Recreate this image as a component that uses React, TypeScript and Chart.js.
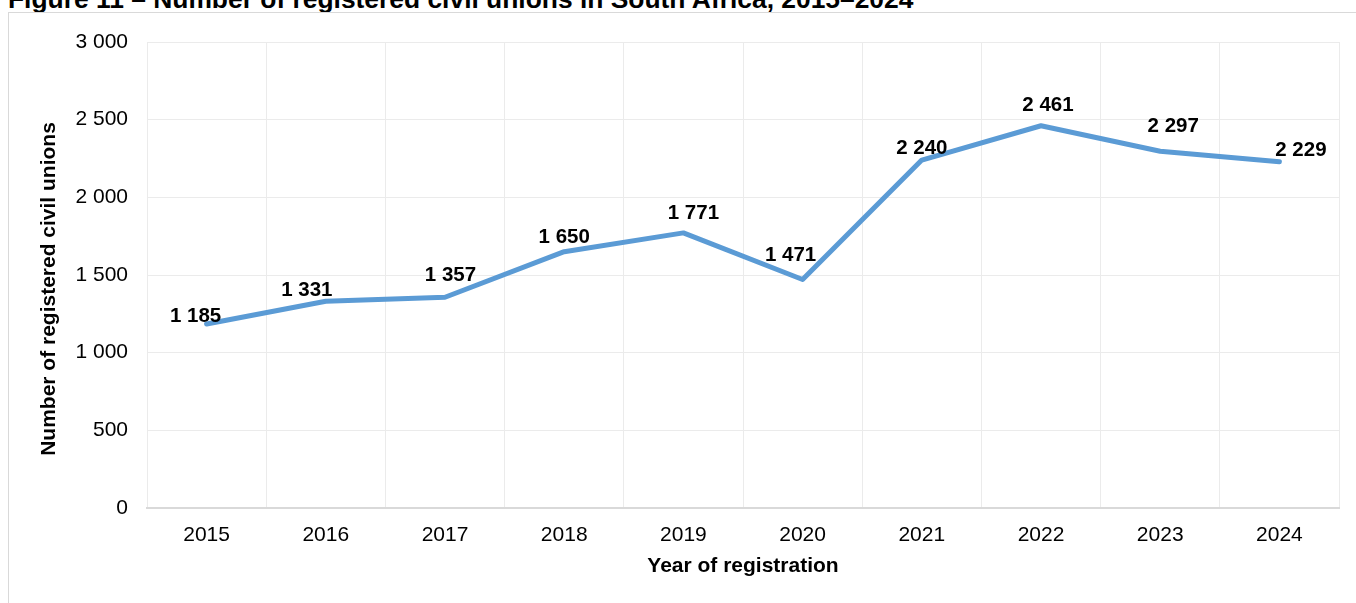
import React, { useEffect, useRef } from "react";
import { Chart, registerables } from "chart.js";

Chart.register(...registerables);

const years: string[] = ["2015", "2016", "2017", "2018", "2019", "2020", "2021", "2022", "2023", "2024"];
const unions: number[] = [1185, 1331, 1357, 1650, 1771, 1471, 2240, 2461, 2297, 2229];
const yTicks: number[] = [0, 500, 1000, 1500, 2000, 2500, 3000];

// label nudges (dx, dy of label centre relative to its point), as placed in the original
const labelNudges: [number, number][] = [
  [-11, -9.5], [-19, -13], [5.5, -23.7], [0, -16], [10, -21],
  [-12, -26], [0, -13.5], [7, -22], [13, -27], [21.5, -13],
];

const FONT = "'Liberation Sans', Arial, sans-serif";
const fmt = (v: number) => String(v).replace(/\B(?=(\d{3})+(?!\d))/g, " ");

const overlayPlugin = {
  id: "overlay",
  afterDatasetsDraw(chart: any) {
    const ctx = chart.ctx;
    const meta = chart.getDatasetMeta(0);
    const size = 20.5;
    ctx.save();
    ctx.fillStyle = "#000";
    ctx.font = `bold ${size}px ${FONT}`;
    ctx.textAlign = "center";
    ctx.textBaseline = "alphabetic";
    meta.data.forEach((pt: any, i: number) => {
      const [dx, dy] = labelNudges[i];
      ctx.fillText(fmt(unions[i]), pt.x + dx, pt.y + dy + 0.358 * size);
    });
    ctx.restore();
  },
  afterDraw(chart: any) {
    const ctx = chart.ctx;
    const area = chart.chartArea;
    ctx.save();
    ctx.fillStyle = "#000";
    ctx.font = `bold 21px ${FONT}`;
    ctx.textAlign = "center";
    ctx.textBaseline = "alphabetic";
    ctx.fillText("Year of registration", (area.left + area.right) / 2, 572);
    ctx.translate(55, 289);
    ctx.rotate(-Math.PI / 2);
    ctx.fillText("Number of registered civil unions", 0, 0);
    ctx.restore();
  },
};

export default function App() {
  const ref = useRef<HTMLCanvasElement | null>(null);

  useEffect(() => {
    if (!ref.current) return;
    const chart = new Chart(ref.current, {
      type: "line",
      data: {
        labels: years,
        datasets: [
          {
            data: unions,
            borderColor: "#5b9bd5",
            backgroundColor: "#5b9bd5",
            borderWidth: 5,
            borderCapStyle: "round",
            borderJoinStyle: "round",
            pointRadius: 0,
            pointHoverRadius: 0,
            tension: 0,
            fill: false,
          },
        ],
      },
      options: {
        animation: false,
        responsive: false,
        maintainAspectRatio: false,
        devicePixelRatio: 1,
        layout: { padding: { left: 0, right: 17, top: 42, bottom: 0 } },
        plugins: {
          legend: { display: false },
          tooltip: { enabled: false },
          title: { display: false },
        },
        scales: {
          x: {
            type: "category",
            offset: true,
            grid: { offset: true, color: "#ebebeb", lineWidth: 1, drawTicks: false },
            border: { display: true, color: "#d9d9d9", width: 2 },
            ticks: { color: "#000", font: { family: FONT, size: 21 }, padding: 15, maxRotation: 0, autoSkip: false },
            afterFit: (scale: any) => { scale.height = 95; },
          },
          y: {
            min: 0,
            max: 3000,
            afterBuildTicks: (scale: any) => { scale.ticks = yTicks.map((v) => ({ value: v })); },
            grid: { color: "#ebebeb", lineWidth: 1, drawTicks: false },
            border: { display: false },
            ticks: { color: "#000", font: { family: FONT, size: 21 }, padding: 19, callback: (v: any) => fmt(Number(v)) },
            afterFit: (scale: any) => { scale.width = 147; },
          },
        },
      },
      plugins: [overlayPlugin],
    });
    return () => chart.destroy();
  }, []);

  return (
    <div style={{ position: "absolute", left: 0, top: 0, width: 1356, height: 603, overflow: "hidden", background: "#fff" }}>
      <div
        style={{
          position: "absolute",
          left: 8,
          top: -14.5,
          whiteSpace: "nowrap",
          font: `bold 26.4px/26px ${FONT}`,
          color: "#000",
        }}
      >
        Figure 11 – Number of registered civil unions in South Africa, 2015–2024
      </div>
      <div
        style={{
          position: "absolute",
          left: 8,
          top: 12,
          width: 1360,
          height: 700,
          borderTop: "1px solid #d9d9d9",
          borderLeft: "1px solid #d9d9d9",
        }}
      />
      <canvas ref={ref} width={1356} height={603} style={{ position: "absolute", left: 0, top: 0, width: 1356, height: 603 }} />
    </div>
  );
}
